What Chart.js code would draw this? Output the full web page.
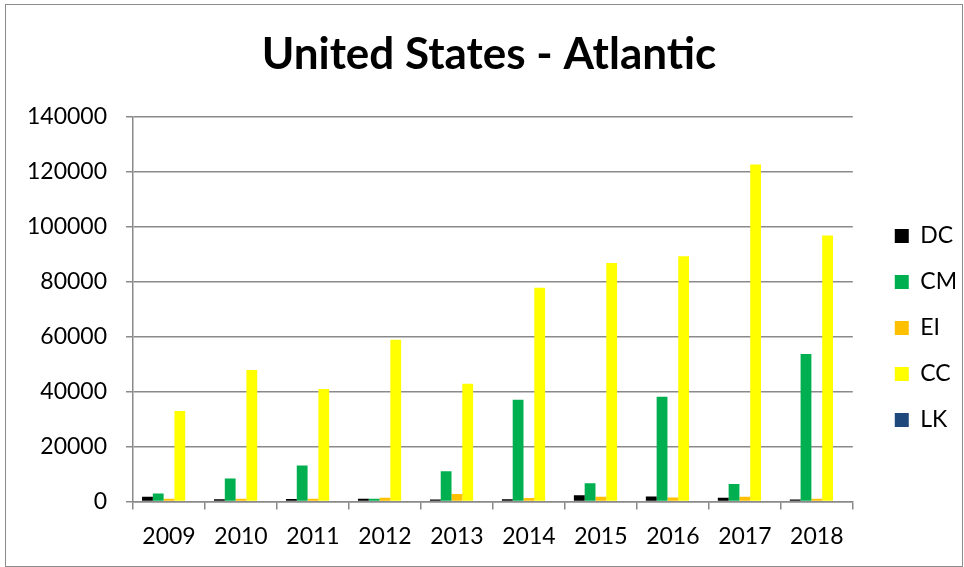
<!DOCTYPE html>
<html>
<head>
<meta charset="utf-8">
<script src="https://cdn.jsdelivr.net/npm/chart.js@4/dist/chart.umd.min.js"></script>
<style>
  html, body { margin: 0; padding: 0; background: #ffffff; }
  #wrap { position: relative; width: 964px; height: 567px; }
  #frame { position: absolute; left: 5px; top: 4px; width: 956px; height: 561px; border: 1px solid #8c8c8c; pointer-events: none; }
  canvas { display: block; }
</style>
</head>
<body>
<div id="wrap">
  <canvas id="chart" width="964" height="567"></canvas>
  <div id="frame"></div>
</div>
<script>
// Yearly counts per category
const years = ['2009', '2010', '2011', '2012', '2013', '2014', '2015', '2016', '2017', '2018'];
const dcValues = [1700, 800, 900, 1000, 700, 800, 2200, 1800, 1300, 700];
const cmValues = [2900, 8300, 13100, 1000, 11000, 37000, 6600, 38100, 6300, 53700];
const eiValues = [1000, 1000, 1000, 1300, 2700, 1200, 1700, 1400, 1700, 1000];
const ccValues = [32900, 47800, 40900, 58800, 42800, 77800, 86800, 89200, 122600, 96800];
const lkValues = [0, 0, 0, 0, 0, 0, 0, 0, 0, 0];
const yTicks = [0, 20000, 40000, 60000, 80000, 100000, 120000, 140000];

const seriesNames = ['DC', 'CM', 'EI', 'CC', 'LK'];
const seriesColors = ['#000000', '#00b050', '#ffc000', '#ffff00', '#1f497d'];
const seriesValues = [dcValues, cmValues, eiValues, ccValues, lkValues];

const gridColor = '#8a8a8a';
const labelFont = { family: 'Lato', size: 23 };

const datasets = seriesNames.map((name, i) => ({
  label: name,
  data: seriesValues[i],
  backgroundColor: seriesColors[i],
  borderWidth: 0,
  categoryPercentage: 0.75,
  barPercentage: 1.0
}));

// Nudge the legend column and the title from where the layout puts them
const boxOffsets = {
  id: 'boxOffsets',
  afterLayout(chart, args, opts) {
    const lg = chart.legend;
    if (lg) {
      lg.left += opts.legendDx; lg.right += opts.legendDx;
      lg.top += opts.legendDy; lg.bottom += opts.legendDy;
    }
    const tb = chart.titleBlock;
    if (tb) {
      tb.left += opts.titleDx; tb.right += opts.titleDx;
    }
  }
};

new Chart(document.getElementById('chart'), {
  type: 'bar',
  data: { labels: years, datasets: datasets },
  plugins: [boxOffsets],
  options: {
    responsive: false,
    animation: false,
    devicePixelRatio: 1,
    layout: { padding: { top: 5, left: 8, right: 16, bottom: 4 } },
    plugins: {
      boxOffsets: { legendDx: 19, legendDy: 44, titleDx: 11 },
      title: {
        display: true,
        text: 'United States - Atlantic',
        color: '#000000',
        font: { family: 'Lato', size: 44, weight: 'bold', lineHeight: 1.2 },
        padding: { top: 23, bottom: 36 }
      },
      legend: {
        position: 'right',
        align: 'center',
        labels: {
          color: '#000000',
          font: labelFont,
          boxWidth: 14,
          boxHeight: 14,
          padding: 23
        }
      },
      tooltip: { enabled: false }
    },
    scales: {
      x: {
        offset: true,
        grid: {
          display: true,
          drawOnChartArea: false,
          drawTicks: true,
          tickLength: 8,
          color: gridColor,
          lineWidth: 1.5,
          offset: true
        },
        border: { display: true, color: gridColor, width: 1.5 },
        ticks: { color: '#000000', font: labelFont, padding: 13, maxRotation: 0 }
      },
      y: {
        min: 0,
        max: 140000,
        afterBuildTicks: scale => { scale.ticks = yTicks.map(v => ({ value: v })); },
        grid: {
          color: gridColor,
          lineWidth: 1.5,
          drawTicks: true,
          tickLength: 7
        },
        border: { display: true, color: gridColor, width: 1.5 },
        ticks: { color: '#000000', font: labelFont, padding: 19, callback: v => String(v) }
      }
    }
  }
});
</script>
</body>
</html>
